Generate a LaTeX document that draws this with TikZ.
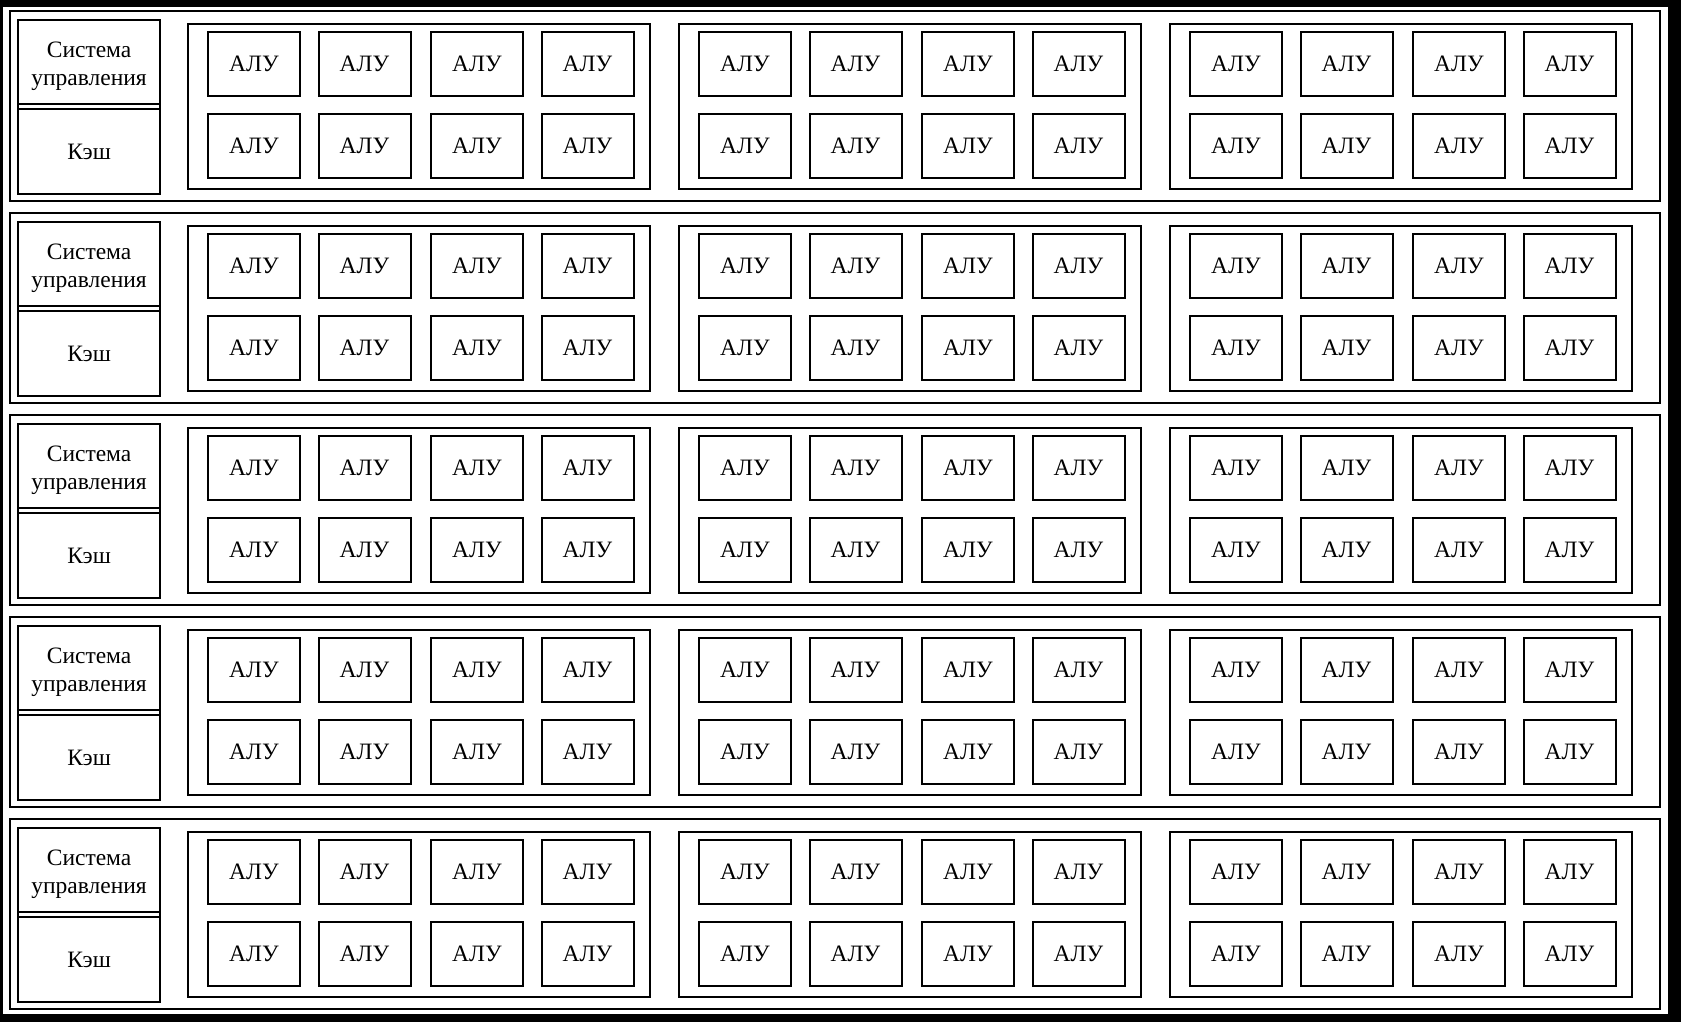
\documentclass[tikz,border=0pt]{standalone}
\usepackage{fontspec}
\setmainfont{Liberation Serif}
\usetikzlibrary{positioning}

\begin{document}
\begin{tikzpicture}[
    x=1pt, y=-1pt,
    font=\fontsize{23.5}{28}\selectfont,
    rowbox/.style={draw, line width=2.4pt, inner sep=0pt, anchor=north west, minimum width=1650pt, minimum height=190pt},
    sidebox/.style={draw, line width=2.4pt, inner sep=0pt, anchor=north west, minimum width=142pt, minimum height=174pt},
    ctrlbox/.style={draw, line width=2.2pt, inner sep=0pt, anchor=north west, minimum width=142pt, minimum height=84pt},
    cachebox/.style={draw, line width=2.2pt, inner sep=0pt, anchor=north west, minimum width=142pt, minimum height=85pt},
    grpbox/.style={draw, line width=2pt, inner sep=0pt, anchor=north west, minimum width=462pt, minimum height=165pt},
    alu/.style={draw, line width=2pt, inner sep=0pt, anchor=north west, minimum width=92pt, minimum height=64pt}
]
  % frame
  \fill[black] (0,0) rectangle (1681,1022);
  \fill[white] (3,7) rectangle (1668,1014);

  \foreach \r in {0,...,4} {
    \pgfmathsetmacro\rowy{10+202*\r}
    \node[rowbox] (row\r) at (8.5,\rowy) {};
    \node[sidebox] (side\r) at (17,\rowy+9) {};
    \node[ctrlbox] (ctrl\r) at (17,\rowy+9) {};
    \node[align=center, inner sep=0pt] (ctrltext\r) at ([yshift=-4.5pt]ctrl\r.center) {Система\\управления};
    \node[cachebox] (cache\r) at (17,\rowy+98) {Кэш};
    \foreach \g in {0,1,2} {
      \pgfmathsetmacro\grpx{186.5+491*\g}
      \node[grpbox] (grp\r-\g) at (\grpx,\rowy+13) {};
      \foreach \c/\dx in {0/20.5,1/131,2/243.5,3/354} {
        \node[alu] (alu\r-\g-\c-a) at (\grpx+\dx,\rowy+21) {АЛУ};
        \node[alu] (alu\r-\g-\c-b) at (\grpx+\dx,\rowy+103) {АЛУ};
      }
    }
  }
\end{tikzpicture}
\end{document}
